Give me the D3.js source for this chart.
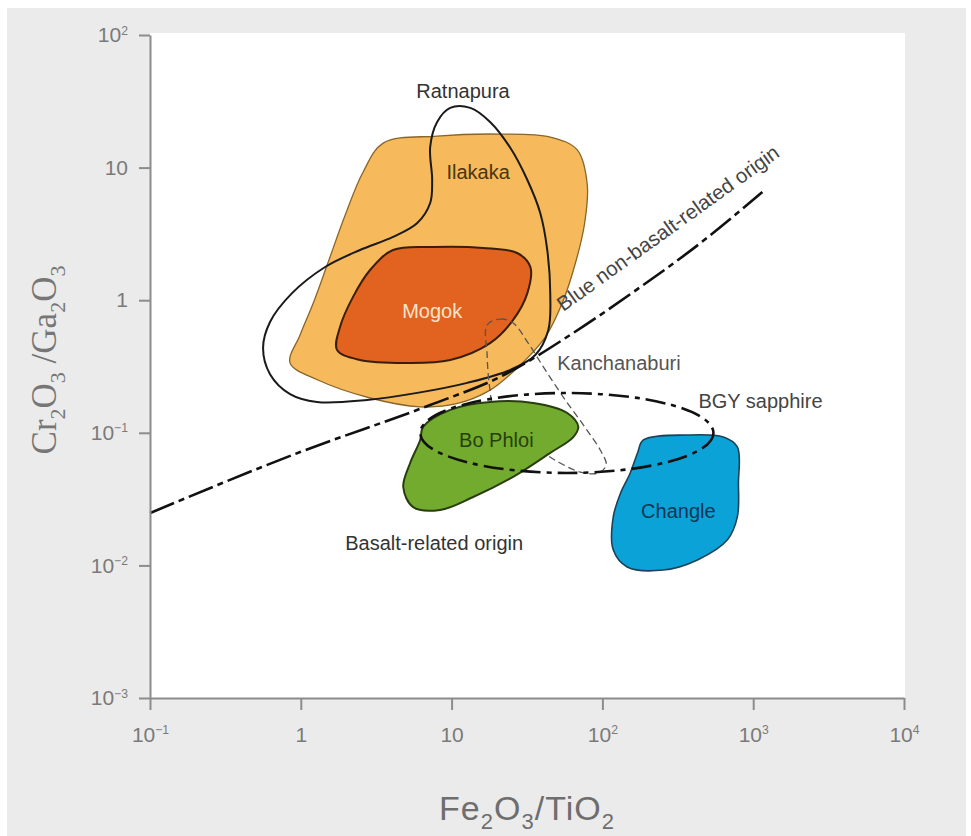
<!DOCTYPE html>
<html><head><meta charset="utf-8">
<script src="https://cdn.jsdelivr.net/npm/d3@7"></script>
<style>
html,body{margin:0;padding:0;background:#fff;}
svg{display:block;}
</style></head>
<body>
<svg id="chart" width="971" height="836"></svg>
<script>
// ---------- DATA (Fe2O3/TiO2 , Cr2O3/Ga2O3) ----------
const xTickValues = [0.1, 1, 10, 100, 1000, 10000];
const xTickLabels = [["10","−1"],["1",""],["10",""],["10","2"],["10","3"],["10","4"]];
const yTickValues = [0.001, 0.01, 0.1, 1, 10, 100];
const yTickLabels = [["10","−3"],["10","−2"],["10","−1"],["1",""],["10",""],["10","2"]];

const ilakaka = [[3.52,15.3],[8.02,17.3],[21.0,17.9],[45.1,17.0],[68.1,13.6],[79.4,7.39],[75.9,3.69],[67.1,2.01],[55.1,1.00],[41.8,0.527],[28.5,0.324],[18.0,0.210],[10.6,0.165],[6.19,0.157],[2.88,0.183],[1.30,0.250],[0.849,0.336],[0.989,0.547],[1.21,0.953],[1.52,1.94],[1.97,4.39],[2.59,9.27]];
const mogok = [[2.88,1.69],[4.09,2.39],[7.55,2.52],[16.2,2.48],[27.2,2.27],[33.3,1.78],[31.8,1.13],[25.6,0.710],[18.0,0.475],[9.79,0.354],[5.07,0.336],[2.47,0.354],[1.74,0.421],[1.82,0.628],[2.22,1.06]];
const ratnapura = [[9.79,28.2],[13.3,28.2],[18.0,22.1],[24.5,14.1],[31.8,8.06],[38.7,4.55],[43.1,2.39],[45.1,1.13],[43.8,0.596],[35.9,0.386],[24.5,0.298],[12.7,0.238],[5.92,0.200],[2.75,0.177],[1.28,0.171],[0.849,0.196],[0.625,0.277],[0.562,0.436],[0.625,0.685],[0.875,1.13],[1.45,1.78],[2.47,2.39],[4.09,3.00],[5.92,3.82],[7.21,5.41],[7.43,8.06],[7.21,14.3],[8.02,22.1]];
const kanchanaburi = [[17.2,0.650],[21.0,0.721],[25.6,0.673],[32.2,0.475],[41.8,0.298],[56.7,0.177],[77.1,0.109],[96.8,0.0741],[106,0.0571],[94.0,0.0498],[71.3,0.0506],[50.9,0.0603],[35.9,0.0782],[24.5,0.109],[19.2,0.149],[17.8,0.229],[17.2,0.386]];
const boPhloi = [[6.48,0.111],[9.79,0.149],[18.0,0.171],[34.8,0.168],[58.5,0.141],[69.2,0.111],[64.1,0.0929],[45.1,0.0705],[25.6,0.0465],[13.9,0.0328],[8.39,0.0262],[5.56,0.0275],[4.78,0.0390],[5.31,0.0592],[6.19,0.0883]];
const changle = [[187,0.0883],[366,0.0962],[634,0.0929],[785,0.0782],[798,0.0418],[785,0.0232],[675,0.0156],[427,0.0110],[254,0.00923],[146,0.00973],[118,0.0131],[118,0.0232],[132,0.0352],[153,0.0498],[171,0.0705]];
// BGY sapphire field: x extent and y extent of the ellipse
const bgyX = [6.2, 545];
const bgyY = [0.0498, 0.1995];
// Blue non-basalt / basalt-related boundary
const boundary = [[0.1,0.0248],[0.99,0.0716],[7.21,0.162],[21.0,0.264],[64.1,0.566],[160,1.15],[447,2.70],[1150,6.55]];

// labels: [text, x, y, anchor]
const fieldLabels = [
  ["Ratnapura", 11.9, 33.5, "middle", "#333333"],
  ["Ilakaka", 15.0, 8.2, "middle", "#4a3410"],
  ["Mogok", 7.43, 0.734, "middle", "#fde2cc"],
  ["Kanchanaburi", 50.2, 0.298, "start", "#555555"],
  ["BGY sapphire", 433, 0.154, "start", "#444444"],
  ["Bo Phloi", 19.8, 0.0782, "middle", "#263f0a"],
  ["Changle", 319, 0.0228, "middle", "#0f3656"],
  ["Basalt-related origin", 1.97, 0.0131, "start", "#333333"]
];
const boundaryLabel = ["Blue non-basalt-related origin", 55.1, 0.815];

// ---------- DRAW ----------
const svg = d3.select("#chart");
const x = d3.scaleLog().domain([0.1, 10000]).range([150, 904]);
const y = d3.scaleLog().domain([0.001, 100]).range([698, 35]);

svg.append("rect").attr("x",7).attr("y",8).attr("width",959).attr("height",828).attr("fill","#ebebeb");
svg.append("rect").attr("x",150).attr("y",33).attr("width",755).attr("height",665).attr("fill","#ffffff");

const shape = d3.line().x(d=>x(d[0])).y(d=>y(d[1])).curve(d3.curveCatmullRomClosed.alpha(0.5));

const g = svg.append("g");
g.append("path").attr("d", shape(ilakaka)).attr("fill","#f6b95b").attr("stroke","#8a6528").attr("stroke-width",1.3);
g.append("path").attr("d", shape(mogok)).attr("fill","#e2621f").attr("stroke","#3a1e0a").attr("stroke-width",2);
g.append("path").attr("d", shape(ratnapura)).attr("fill","none").attr("stroke","#1a1a1a").attr("stroke-width",2);
g.append("path").attr("d", shape(kanchanaburi)).attr("fill","none").attr("stroke","#555").attr("stroke-width",1.3).attr("stroke-dasharray","7,4");

const bline = d3.line().x(d=>x(d[0])).y(d=>y(d[1])).curve(d3.curveMonotoneX);
g.append("path").attr("d", bline(boundary)).attr("fill","none").attr("stroke","#111").attr("stroke-width",2.6).attr("stroke-dasharray","26,5,6,5");

g.append("path").attr("d", shape(boPhloi)).attr("fill","#73ab2e").attr("stroke","#2a3d10").attr("stroke-width",2);
g.append("path").attr("d", shape(changle)).attr("fill","#0ba2d7").attr("stroke","#1d4258").attr("stroke-width",1.6);

const ex0 = x(bgyX[0]), ex1 = x(bgyX[1]), ey0 = y(bgyY[1]), ey1 = y(bgyY[0]);
g.append("ellipse").attr("cx",(ex0+ex1)/2).attr("cy",(ey0+ey1)/2).attr("rx",(ex1-ex0)/2).attr("ry",(ey1-ey0)/2)
  .attr("fill","none").attr("stroke","#111").attr("stroke-width",2.6).attr("stroke-dasharray","20,6,5,6");

// labels
const lab = svg.append("g").attr("font-family","'Liberation Sans', Arial, sans-serif").attr("font-size",20);
fieldLabels.forEach(l=>{
  lab.append("text").attr("x",x(l[1])).attr("y",y(l[2])).attr("text-anchor",l[3]).attr("fill",l[4]).text(l[0]);
});
lab.append("text").attr("transform",`translate(${x(boundaryLabel[1])},${y(boundaryLabel[2])}) rotate(-35.7)`)
  .attr("fill","#444").attr("font-size",20.5).text(boundaryLabel[0]);

// axes
function styleAxis(sel, labels){
  sel.select(".domain").attr("stroke","#8c8c8c").attr("stroke-width",2);
  sel.selectAll(".tick line").attr("stroke","#8c8c8c").attr("stroke-width",2);
  sel.selectAll(".tick text").each(function(d,i){
    const t = d3.select(this); t.text("");
    t.append("tspan").text(labels[i][0]);
    if(labels[i][1]) t.append("tspan").attr("dy","-0.62em").attr("font-size","0.58em").text(labels[i][1]);
  });
  sel.selectAll(".tick text").attr("fill","#7a7a7a").attr("font-family","'Liberation Sans Narrow','Arial Narrow',sans-serif").attr("font-size",21);
}
const yAxis = svg.append("g").attr("transform","translate(150,0)")
  .call(d3.axisLeft(y).tickValues(yTickValues).tickSize(11).tickSizeOuter(0).tickPadding(11));
styleAxis(yAxis, yTickLabels);
const xAxis = svg.append("g").attr("transform","translate(0,698)")
  .call(d3.axisBottom(x).tickValues(xTickValues).tickSize(12).tickSizeOuter(0).tickPadding(17));
styleAxis(xAxis, xTickLabels);

// axis titles
const xt = svg.append("text").attr("x",527).attr("y",820).attr("text-anchor","middle")
  .attr("font-family","'Liberation Sans Narrow','Arial Narrow',sans-serif").attr("font-size",34).attr("fill","#6e6e6e").attr("letter-spacing",1);
[["Fe",0],["2",1],["O",-1],["3",1],["/TiO",-1],["2",1]].forEach(p=>{
  const ts = xt.append("tspan").text(p[0]);
  if(p[1]===1) ts.attr("dy",9).attr("font-size",22); else if(p[1]===-1) ts.attr("dy",-9);
});
const yt = svg.append("text").attr("transform","translate(56,360) rotate(-90)").attr("text-anchor","middle")
  .attr("font-family","'Liberation Serif','Times New Roman',serif").attr("font-size",35).attr("fill","#767676");
[["Cr",0],["2",1],["O",-1],["3",1],[" /Ga",-1],["2",1],["O",-1],["3",1]].forEach(p=>{
  const ts = yt.append("tspan").text(p[0]);
  if(p[1]===1) ts.attr("dy",9).attr("font-size",22); else if(p[1]===-1) ts.attr("dy",-9);
});
</script>
</body></html>
